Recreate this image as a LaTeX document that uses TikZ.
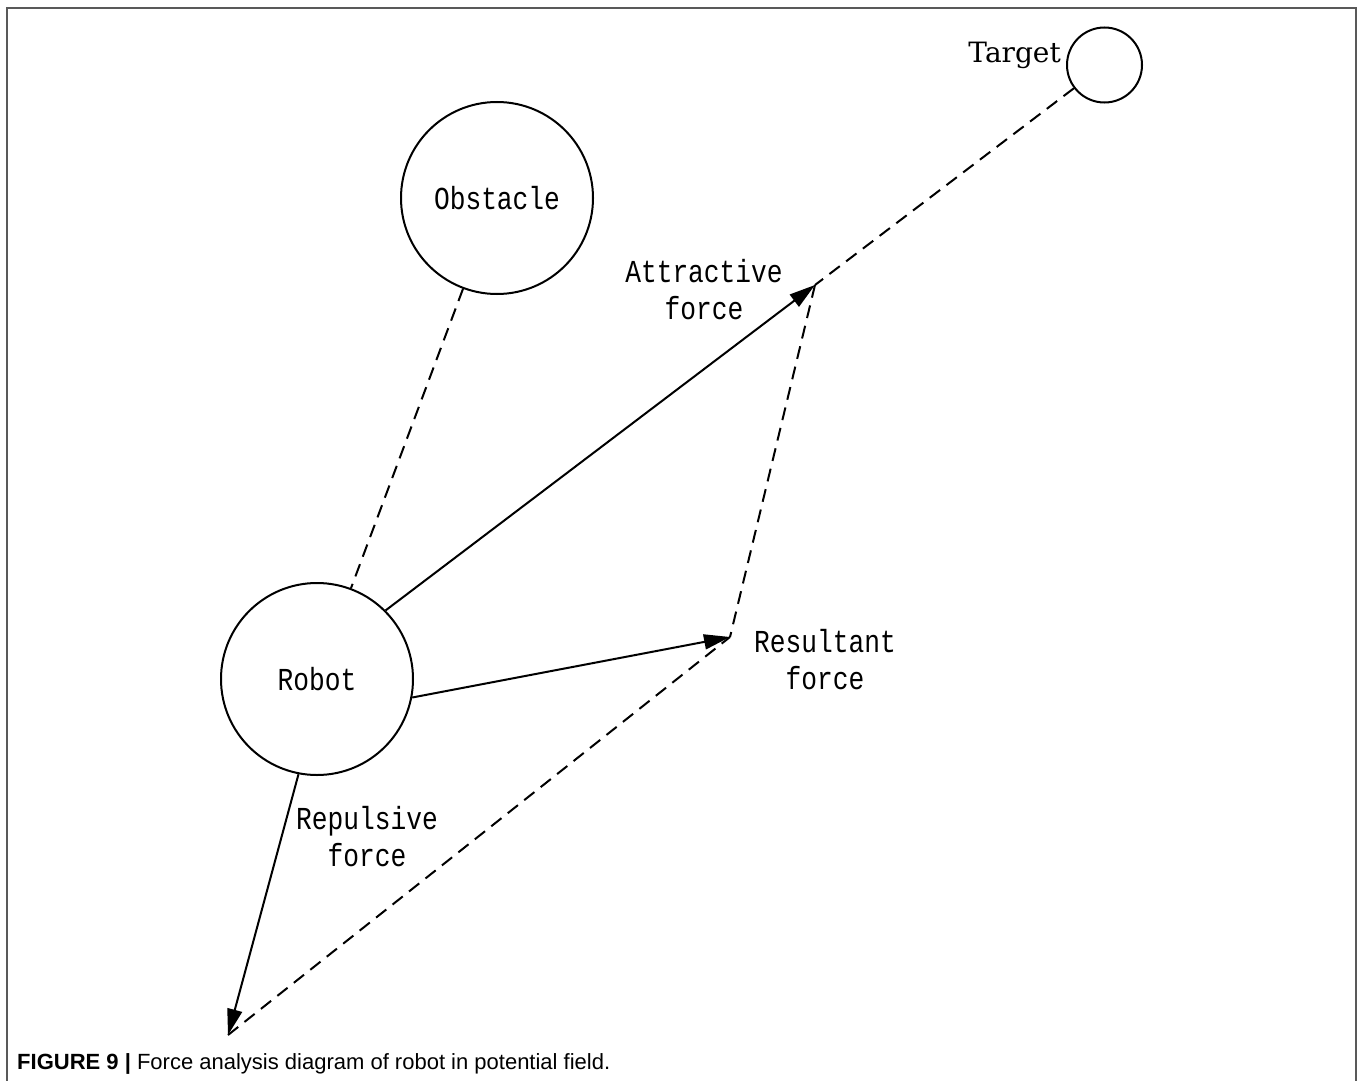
\documentclass[tikz,border=0pt]{standalone}
\usepackage{fontspec}
\usetikzlibrary{arrows.meta}
\newfontfamily\lblfont[FakeStretch=0.82]{Liberation Mono}
\newfontfamily\tgtfont{DejaVu Serif}
\newfontfamily\capfont{Liberation Sans}
\begin{document}
\begin{tikzpicture}[x=1pt,y=-1pt,
  circ/.style={draw, circle, line width=2pt, inner sep=0pt, font=\lblfont\fontsize{32}{37}\selectfont},
  force/.style={line width=2pt, -{Triangle[length=26pt,width=15pt]}},
  dsh/.style={line width=2pt, dash pattern=on 13pt off 8pt},
  lbl/.style={align=center, font=\lblfont\fontsize{32}{37}\selectfont, inner sep=0pt}]
\useasboundingbox (0,0) rectangle (1358,1081);
\draw[gray!70!black, line width=2pt] (7,1081) -- (7,8) -- (1356,8) -- (1356,1081);
% nodes
\node[circ, minimum size=192pt] (obs) at (497,198) {Obstacle};
\node[circ, minimum size=192pt] (rob) at (317,679) {Robot};
\node[circ, minimum size=75pt] (tgt) at (1104.5,65) {};
\node[anchor=east, inner sep=0pt, font=\tgtfont\fontsize{28}{34}\selectfont] (tgtlbl) at (1061,55) {Target};
\coordinate (att) at (815,285);
\coordinate (res) at (730,637);
\coordinate (rep) at (228,1035);
% dashed construction lines
\draw[dsh] (obs) -- (rob);
\draw[dsh] (tgt) -- (att);
\draw[dsh] (att) -- (res);
\draw[dsh] (rep) -- (res);
% forces
\draw[force] (rob.45) -- (att);
\draw[force] (rob.-11) -- (res);
\draw[force] (rob.-101) -- (rep);
% labels
\node[lbl] (attlbl) at (704,290) {Attractive\\force};
\node[lbl] (reslbl) at (825,660) {Resultant\\force};
\node[lbl] (replbl) at (367,837) {Repulsive\\force};
% caption
\node[anchor=base west, inner sep=0pt, font=\capfont\fontsize{22}{26}\selectfont] (cap) at (17,1069) {\textbf{FIGURE 9 |} Force analysis diagram of robot in potential field.};
\end{tikzpicture}
\end{document}
